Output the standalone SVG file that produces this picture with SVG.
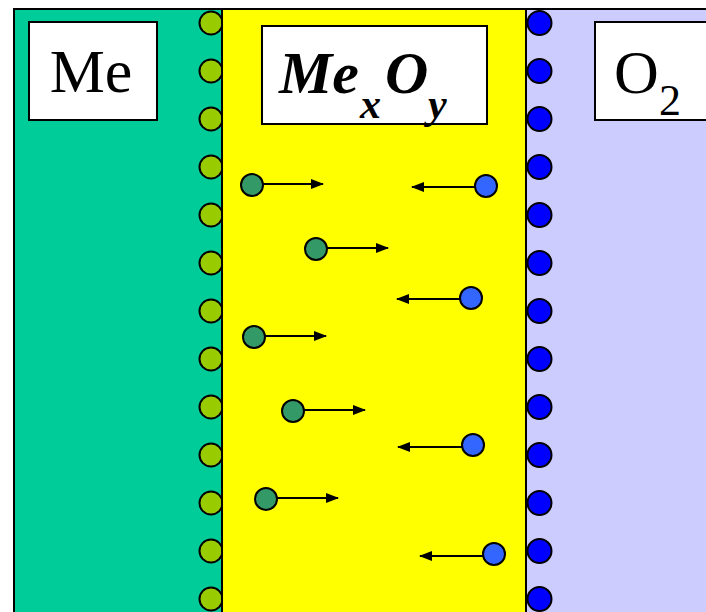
<svg xmlns="http://www.w3.org/2000/svg" width="706" height="612" viewBox="0 0 706 612">
<defs>
<style>
.panel{stroke:#000;stroke-width:2}
.box{fill:#fff;stroke:#000;stroke-width:2}
.me{fill:#99CC00;stroke:#000;stroke-width:2}
.ox{fill:#0000FF;stroke:#000;stroke-width:2}
.gp{fill:#339966;stroke:#000;stroke-width:2}
.bp{fill:#3366FF;stroke:#000;stroke-width:2}
.arr{stroke:#000;stroke-width:2;fill:none}
.serif{font-family:"Liberation Serif","Times New Roman",serif;fill:#000}
</style>
<marker id="ah" markerUnits="userSpaceOnUse" markerWidth="13" markerHeight="10" refX="12" refY="5" orient="auto">
<path d="M0,0 L13,5 L0,10 Z" fill="#000"/>
</marker>
</defs>
<rect width="706" height="612" fill="#fff"/>
<g id="metal-phase">
<rect class="panel" x="14" y="9" width="208" height="612" fill="#00CC99"/>
<g id="metal-surface">
<circle class="me" cx="211" cy="23" r="11.5"/>
<circle class="me" cx="211" cy="71" r="11.5"/>
<circle class="me" cx="211" cy="119" r="11.5"/>
<circle class="me" cx="211" cy="167" r="11.5"/>
<circle class="me" cx="211" cy="215" r="11.5"/>
<circle class="me" cx="211" cy="263" r="11.5"/>
<circle class="me" cx="211" cy="311" r="11.5"/>
<circle class="me" cx="211" cy="359" r="11.5"/>
<circle class="me" cx="211" cy="407" r="11.5"/>
<circle class="me" cx="211" cy="455" r="11.5"/>
<circle class="me" cx="211" cy="503" r="11.5"/>
<circle class="me" cx="211" cy="551" r="11.5"/>
<circle class="me" cx="211" cy="599" r="11.5"/>
</g>
</g>
<g id="oxide-phase">
<rect class="panel" x="222" y="9" width="304" height="612" fill="#FFFF00"/>
</g>
<g id="oxygen-phase">
<rect class="panel" x="526" y="9" width="190" height="612" fill="#CCCCFF"/>
<g id="oxygen-surface">
<circle class="ox" cx="539.5" cy="23" r="12"/>
<circle class="ox" cx="539.5" cy="71" r="12"/>
<circle class="ox" cx="539.5" cy="119" r="12"/>
<circle class="ox" cx="539.5" cy="167" r="12"/>
<circle class="ox" cx="539.5" cy="215" r="12"/>
<circle class="ox" cx="539.5" cy="263" r="12"/>
<circle class="ox" cx="539.5" cy="311" r="12"/>
<circle class="ox" cx="539.5" cy="359" r="12"/>
<circle class="ox" cx="539.5" cy="407" r="12"/>
<circle class="ox" cx="539.5" cy="455" r="12"/>
<circle class="ox" cx="539.5" cy="503" r="12"/>
<circle class="ox" cx="539.5" cy="551" r="12"/>
<circle class="ox" cx="539.5" cy="599" r="12"/>
</g>
</g>
<g id="label-me">
<rect class="box" x="29" y="22" width="128" height="98"/>
<text class="serif" x="91" y="92" font-size="62" text-anchor="middle">Me</text>
</g>
<g id="label-mexoy">
<rect class="box" x="262" y="26" width="225" height="98"/>
<text class="serif" font-weight="bold" font-style="italic"><tspan x="279" y="93" font-size="60">Me</tspan><tspan x="360" y="118" font-size="42">x</tspan><tspan x="385" y="93" font-size="60">O</tspan><tspan x="428" y="118" font-size="42">y</tspan></text>
</g>
<g id="label-o2">
<rect class="box" x="595" y="22" width="112" height="98"/>
<text class="serif"><tspan x="614" y="93" font-size="62">O</tspan><tspan x="659" y="115" font-size="44">2</tspan></text>
</g>
<g id="connectors">
<line class="arr" x1="260" y1="184" x2="323" y2="184" marker-end="url(#ah)"/>
<line class="arr" x1="324" y1="248" x2="388" y2="248" marker-end="url(#ah)"/>
<line class="arr" x1="262" y1="336" x2="326" y2="336" marker-end="url(#ah)"/>
<line class="arr" x1="301" y1="410" x2="365" y2="410" marker-end="url(#ah)"/>
<line class="arr" x1="274" y1="498" x2="338" y2="498" marker-end="url(#ah)"/>
<line class="arr" x1="475" y1="187" x2="412" y2="187" marker-end="url(#ah)"/>
<line class="arr" x1="460" y1="299" x2="397" y2="299" marker-end="url(#ah)"/>
<line class="arr" x1="462" y1="447" x2="398" y2="447" marker-end="url(#ah)"/>
<line class="arr" x1="483" y1="556" x2="420" y2="556" marker-end="url(#ah)"/>
</g>
<g id="metal-ions">
<circle class="gp" cx="252" cy="185" r="11"/>
<circle class="gp" cx="316" cy="249" r="11"/>
<circle class="gp" cx="254" cy="337" r="11"/>
<circle class="gp" cx="293" cy="411" r="11"/>
<circle class="gp" cx="266" cy="499" r="11"/>
</g>
<g id="oxygen-ions">
<circle class="bp" cx="486" cy="186" r="11"/>
<circle class="bp" cx="471" cy="298" r="11"/>
<circle class="bp" cx="473" cy="445" r="11"/>
<circle class="bp" cx="494" cy="554" r="11"/>
</g>
</svg>
